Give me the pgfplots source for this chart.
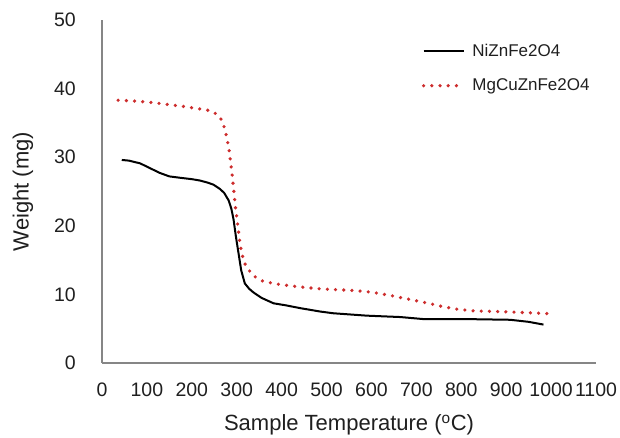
\documentclass[border=0pt]{standalone}
\usepackage{pgfplots}
\pgfplotsset{compat=1.18}
\usepackage{fontspec}
\setmainfont{Liberation Sans}
\definecolor{axgray}{RGB}{134,134,134}
\definecolor{dotred}{RGB}{205,45,45}
\begin{document}
\begin{tikzpicture}[x=1pt,y=1pt]
\useasboundingbox (0,0) rectangle (620,438);
\begin{axis}[
  at={(102pt,75pt)}, anchor=south west,
  scale only axis, width=494pt, height=343pt,
  xmin=0, xmax=1100, ymin=0, ymax=50,
  xtick={0,100,...,1100}, ytick={0,10,...,50},
  axis x line*=bottom, axis y line*=left,
  axis line style={axgray, line width=1.3pt, -},
  major tick length=0pt,
  /pgf/number format/assume math mode=true,
  /pgf/number format/1000 sep={},
  tick label style={font=\fontsize{19.5}{22}\selectfont, text=black!88, inner sep=0pt},
  yticklabel style={anchor=east, xshift=-26pt},
  xticklabel style={anchor=north, yshift=-20pt},
  xlabel={Sample Temperature (\textsuperscript{o}C)},
  ylabel={Weight (mg)},
  label style={font=\fontsize{22}{26}\selectfont, text=black!88},
  xlabel style={at={(axis description cs:0.5,-0.181)}, anchor=center},
  ylabel style={at={(axis description cs:-0.160,0.5)}, anchor=center, rotate=0},
  legend style={at={(axis description cs:0.647,0.930)}, anchor=north west,
    draw=none, fill=none, inner sep=0pt, row sep=21pt, column sep=7pt,
    font=\fontsize{17}{20}\selectfont, nodes={inner sep=0pt, text=black!88}},
  legend cell align=left,
  legend image code/.code={\draw[#1] (0pt,0pt) -- (40pt,0pt);},
  clip=false,
]
\addplot[black, line width=2pt] coordinates {
(44,29.6) (60,29.5) (85,29.1) (110,28.3) (129,27.7) (150,27.2) (174,27.0)
(200,26.8) (218,26.6) (235,26.3) (248,26.0) (262,25.4) (272,24.8) (282,23.7)
(288,22.5) (293,20.9) (298,18.5) (304,16.0) (310,13.5) (318,11.6) (328,10.8)
(337,10.3) (355,9.5) (382,8.7) (410,8.4) (441,8.0) (486,7.5) (515,7.25)
(590,6.9) (664,6.7) (716,6.4) (812,6.4) (909,6.3) (950,6.0) (983,5.6)
};
\addlegendentry{NiZnFe2O4}
\addplot[dotred, line width=3.6pt, line cap=round, dash pattern=on 0pt off 8.2pt] coordinates {
(36,38.3) (70,38.2) (107,38.0) (145,37.7) (181,37.4) (210,37.1) (233,36.9)
(250,36.5) (263,35.8) (270,34.9) (276,33.4) (282,31.5) (286,29.5) (290,27.3)
(294,24.8) (298,22.1) (301,20.9) (306,18.0) (311,16.0) (318,14.5) (326,13.6)
(340,12.6) (359,11.9) (390,11.5) (426,11.2) (486,10.8) (552,10.6) (590,10.4)
(612,10.2) (645,9.8) (679,9.35) (720,8.8) (760,8.2) (795,7.8) (827,7.6)
(880,7.5) (923,7.4) (994,7.2)
};
\addlegendentry{MgCuZnFe2O4}
\end{axis}
\end{tikzpicture}
\end{document}
